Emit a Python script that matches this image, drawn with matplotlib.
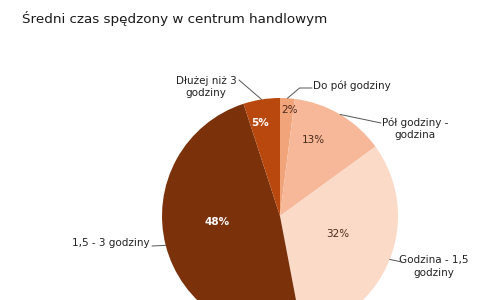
import matplotlib
matplotlib.use("Agg")
import matplotlib.pyplot as plt
import numpy as np

title = "Średni czas spędzony w centrum handlowym"
categories = ["Do pół godziny", "Pół godziny -\ngodzina", "Godzina - 1,5\ngodziny",
              "1,5 - 3 godziny", "Dłużej niż 3\ngodziny"]
values = [2, 13, 32, 48, 5]
colors = ["#F1A37A", "#F6B898", "#FBDAC8", "#7B310A", "#B8480E"]
pct_colors = ["#4a2a1a", "#4a2a1a", "#4a2a1a", "white", "white"]
pct_r = [0.90, 0.70, 0.51, 0.535, 0.805]
pct_dang = [-1.3, 7, 4, -9, 3]

W, H = 501, 300
cx, cy, R = 280, 216, 118  # pixel layout of pie

fig = plt.figure(figsize=(W / 100, H / 100), dpi=100)
ax = fig.add_axes([(cx - R) / W, (H - cy - R) / H, 2 * R / W, 2 * R / H])

wedges, _ = ax.pie(values, colors=colors, startangle=90, counterclock=False,
                   radius=1, wedgeprops=dict(linewidth=0))
for w in wedges:
    w.set_clip_on(False)
ax.set_xlim(-1, 1)
ax.set_ylim(-1, 1)
ax.set_aspect("equal")
ax.axis("off")

fig.text(22 / W, 1 - 19 / H, title, fontsize=9.7, color="#1a1a1a",
         ha="left", va="center", family="DejaVu Sans")

def px2d(px, py):
    return ((px - cx) / R, (cy - py) / R)

# percent labels
for w, v, r, da, c in zip(wedges, values, pct_r, pct_dang, pct_colors):
    ang = np.deg2rad((w.theta1 + w.theta2) / 2 + da)
    ax.text(r * np.cos(ang), r * np.sin(ang), f"{v}%", ha="center", va="center",
            fontsize=7.5, color=c, fontweight="bold" if c == "white" else "normal")

# outer labels: (text position px, ha, line end px)
label_specs = [
    ((313, 86), "left", (312, 88), "angle,angleA=0,angleB=40,rad=0"),
    ((415, 128.5), "center", (381, 123), "arc3"),
    ((434, 266.5), "center", (402, 262), "arc3"),
    ((150, 243), "right", (152, 246), "arc3"),
    ((206, 87), "center", (239, 80), "arc3"),
]
lc = "#555555"
for w, lab, (tp, ha, le, cs) in zip(wedges, categories, label_specs):
    ang = np.deg2rad((w.theta1 + w.theta2) / 2)
    xy = (np.cos(ang), np.sin(ang))
    ax.text(*px2d(*tp), lab, ha=ha, va="center", fontsize=7.5, color="#222222",
            linespacing=1.3, multialignment="center")
    ax.annotate("", xy=xy, xytext=px2d(*le),
                arrowprops=dict(arrowstyle="-", color=lc, lw=0.7,
                                connectionstyle=cs, shrinkA=0, shrinkB=0))

fig.savefig("out.png", dpi=100, facecolor="white")
